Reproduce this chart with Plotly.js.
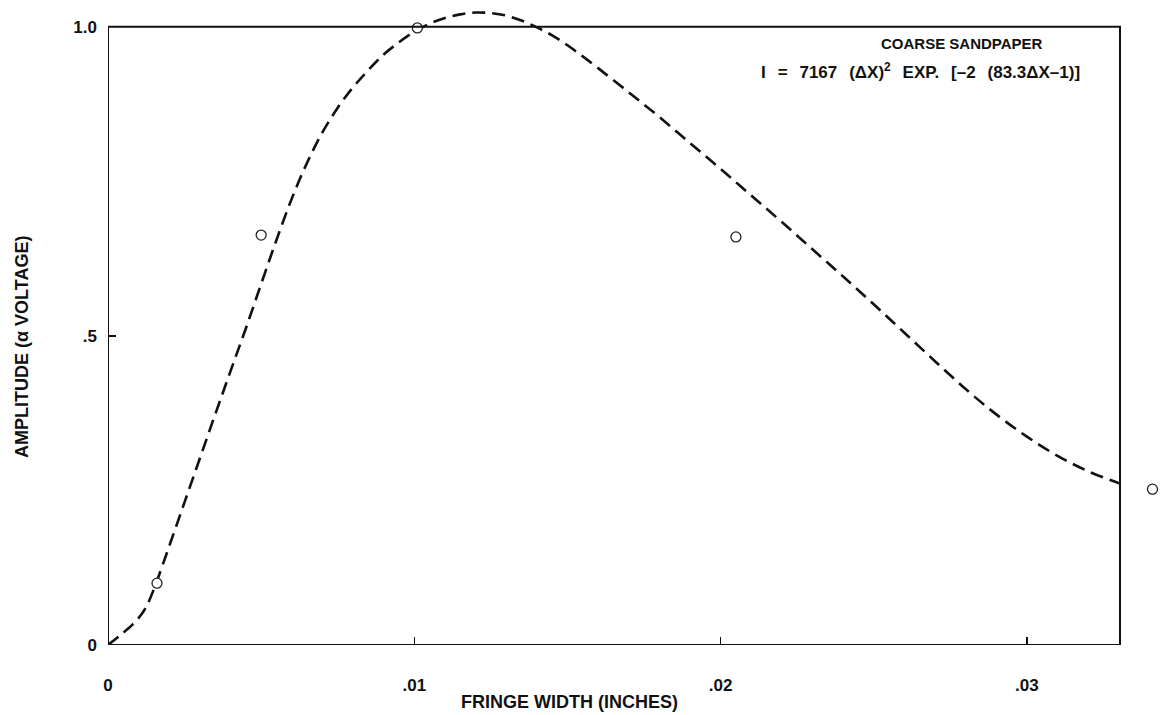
<!DOCTYPE html>
<html>
<head>
<meta charset="utf-8">
<script src="https://cdn.plot.ly/plotly-3.0.1.min.js"></script>
<style>html,body{margin:0;padding:0;background:#fff;}#chart{width:1160px;height:715px;}</style>
</head>
<body>
<div id="chart"></div>
<script>
// Dashed fitted curve
var curveX = [0, 0.0004, 0.0008, 0.0011, 0.0013, 0.0016, 0.0020, 0.0025, 0.0030, 0.0035,
  0.0040, 0.0045, 0.0050, 0.0055, 0.0060, 0.0065, 0.0070, 0.0075, 0.0080, 0.0085,
  0.0090, 0.0095, 0.0100, 0.0105, 0.0110, 0.0115, 0.0120, 0.0125, 0.0130, 0.0135,
  0.0140, 0.0145, 0.0150, 0.0155, 0.0160, 0.0170, 0.0180, 0.0190, 0.0200, 0.0210,
  0.0220, 0.0230, 0.0240, 0.0250, 0.0260, 0.0270, 0.0280, 0.0290, 0.0300, 0.0310,
  0.0320, 0.03304];
var curveY = [0, 0.016, 0.033, 0.050, 0.067, 0.104, 0.160, 0.231, 0.302, 0.373,
  0.443, 0.512, 0.584, 0.655, 0.722, 0.780, 0.829, 0.869, 0.902, 0.930,
  0.955, 0.975, 0.992, 1.005, 1.014, 1.020, 1.023, 1.022, 1.018, 1.010,
  0.999, 0.986, 0.970, 0.952, 0.933, 0.894, 0.854, 0.812, 0.770, 0.727,
  0.684, 0.640, 0.596, 0.551, 0.505, 0.459, 0.414, 0.373, 0.337, 0.306,
  0.281, 0.261];

// Measured points (open circles)
var pointX = [0.0016, 0.005, 0.0101, 0.0205, 0.0341];
var pointY = [0.10, 0.663, 0.998, 0.66, 0.252];

// Tick labels
var xTickVals = [0, 0.01, 0.02, 0.03];
var xTickText = ['0', '.01', '.02', '.03'];
var yTickVals = [0, 0.5, 1.0];
var yTickText = ['0', '.5', '1.0'];

var xFrameMax = 0.03304;   // right edge of the drawn frame
var xViewMax = 0.034313;   // axis range (lets the outlying point show)

var FONT = 'Liberation Sans, Arial, Helvetica, sans-serif';

var traces = [
  {
    x: curveX, y: curveY, type: 'scatter', mode: 'lines',
    line: {color: '#111', width: 2.6, dash: '13px,7px', shape: 'spline', smoothing: 1},
    hoverinfo: 'skip', showlegend: false
  },
  {
    x: pointX, y: pointY, type: 'scatter', mode: 'markers', cliponaxis: false,
    marker: {symbol: 'circle', size: 10, color: '#fff', line: {color: '#222', width: 1.3}},
    showlegend: false
  }
];

var layout = {
  width: 1160, height: 715,
  margin: {l: 108, r: 1, t: 2, b: 70},
  paper_bgcolor: '#fff', plot_bgcolor: '#fff',
  font: {family: FONT, color: '#111'},
  showlegend: false,
  xaxis: {
    range: [0, xViewMax], showgrid: false, zeroline: false, showline: false,
    tickmode: 'array', tickvals: xTickVals, ticktext: xTickText,
    ticks: 'inside', ticklen: 8, tickwidth: 1.5, tickcolor: '#111',
    tickfont: {family: FONT, size: 17, weight: 'bold', color: '#111'},
    ticklabelstandoff: 28
  },
  yaxis: {
    range: [0, 1.04], showgrid: false, zeroline: false, showline: false,
    tickmode: 'array', tickvals: yTickVals, ticktext: yTickText,
    ticks: 'inside', ticklen: 8, tickwidth: 1.5, tickcolor: '#111',
    tickfont: {family: FONT, size: 17, weight: 'bold', color: '#111'},
    ticklabelstandoff: 10
  },
  shapes: [
    {type: 'rect', xref: 'x', yref: 'y', x0: 0, x1: xFrameMax, y0: 0, y1: 1,
     line: {color: '#111', width: 2}, fillcolor: 'rgba(0,0,0,0)', layer: 'above'}
  ],
  annotations: [
    {xref: 'paper', yref: 'paper', x: (962 - 108) / 1051, y: (645 - 43) / 643,
     xanchor: 'center', yanchor: 'middle', showarrow: false,
     text: 'COARSE SANDPAPER', font: {family: FONT, size: 15, weight: 'bold', color: '#111'}},
    {xref: 'paper', yref: 'paper', x: (920 - 108) / 1051, y: (645 - 71) / 643,
     xanchor: 'center', yanchor: 'middle', showarrow: false,
     text: 'I\u2002\u2009=\u2002\u20097167\u2002\u2009(\u0394X)<sup>2</sup>\u2002\u2009EXP.\u2002\u2009[\u20132\u2002\u2009(83.3\u0394X\u20131)]',
     font: {family: FONT, size: 17, weight: 'bold', color: '#111'}},
    {xref: 'paper', yref: 'paper', x: (569 - 108) / 1051, y: (645 - 702) / 643,
     xanchor: 'center', yanchor: 'middle', showarrow: false,
     text: 'FRINGE WIDTH (INCHES)', font: {family: FONT, size: 18, weight: 'bold', color: '#111'}},
    {xref: 'paper', yref: 'paper', x: (22 - 108) / 1051, y: (645 - 347) / 643,
     xanchor: 'center', yanchor: 'middle', showarrow: false, textangle: -90,
     text: 'AMPLITUDE (\u03b1 VOLTAGE)', font: {family: FONT, size: 18, weight: 'bold', color: '#111'}}
  ]
};

Plotly.newPlot('chart', traces, layout, {displayModeBar: false, staticPlot: true});
</script>
</body>
</html>
